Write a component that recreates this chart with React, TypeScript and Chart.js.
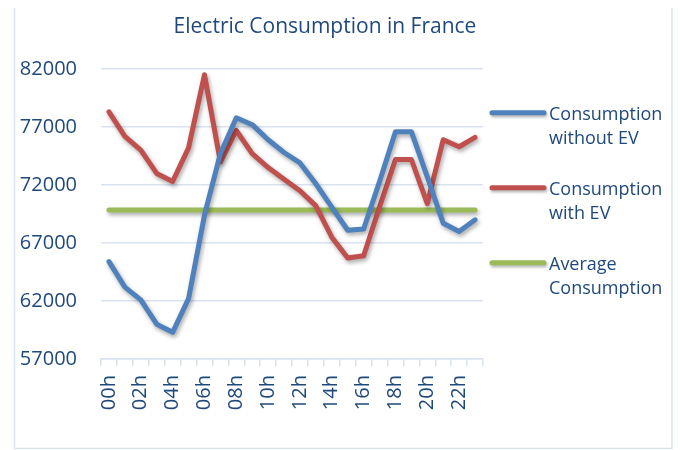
import { useEffect, useRef } from "react";
import { Chart, registerables } from "chart.js";

Chart.register(...registerables);

const chartTitle = "Electric Consumption in France";
const hours = [
  "00h", "01h", "02h", "03h", "04h", "05h", "06h", "07h", "08h", "09h", "10h", "11h",
  "12h", "13h", "14h", "15h", "16h", "17h", "18h", "19h", "20h", "21h", "22h", "23h",
];
const withoutEV = [
  65400, 63200, 62100, 60000, 59300, 62200, 69400, 74700, 77800, 77200, 75900, 74800,
  73900, 72100, 70100, 68100, 68200, 72300, 76600, 76600, 72700, 68700, 68000, 69000,
];
const withEV = [
  78300, 76200, 75000, 73000, 72300, 75200, 81500, 74000, 76700, 74700, 73500, 72500,
  71500, 70200, 67500, 65700, 65900, 70100, 74200, 74200, 70400, 75900, 75300, 76100,
];
const averageConsumption = [
  69850, 69850, 69850, 69850, 69850, 69850, 69850, 69850, 69850, 69850, 69850, 69850,
  69850, 69850, 69850, 69850, 69850, 69850, 69850, 69850, 69850, 69850, 69850, 69850,
];
const yMin = 57000;
const yMax = 82000;
const yStep = 5000;
const seriesNames = [
  ["Consumption", "without EV"],
  ["Consumption", "with EV"],
  ["Average", "Consumption"],
];
const seriesColors = ["#4F81BD", "#C0504D", "#9BBB59"];

const TEXT = "#1F497D";
const GRID = "#D9E3F2";
const FONT = "'Open Sans', sans-serif";

const decorPlugin = {
  id: "decor",
  beforeDraw(chart: any) {
    const ctx = chart.ctx;
    ctx.save();
    ctx.fillStyle = "#ffffff";
    ctx.fillRect(0, 0, chart.width, chart.height);
    ctx.strokeStyle = GRID;
    ctx.lineWidth = 1.5;
    ctx.beginPath();
    ctx.moveTo(14.5, 8);
    ctx.lineTo(14.5, 448.5);
    ctx.lineTo(672, 448.5);
    ctx.lineTo(672, 8);
    ctx.stroke();
    ctx.fillStyle = TEXT;
    ctx.font = `21px ${FONT}`;
    ctx.textAlign = "center";
    ctx.textBaseline = "alphabetic";
    ctx.fillText(chartTitle, 325, 33);
    ctx.restore();
  },
  beforeDatasetDraw(chart: any) {
    const ctx = chart.ctx;
    ctx.save();
    ctx.shadowColor = "rgba(0,0,0,0.35)";
    ctx.shadowBlur = 4;
    ctx.shadowOffsetX = 1.5;
    ctx.shadowOffsetY = 2.5;
  },
  afterDatasetDraw(chart: any) {
    chart.ctx.restore();
  },
  afterDraw(chart: any) {
    const ctx = chart.ctx;
    ctx.save();
    seriesNames.forEach((lines, i) => {
      const y = 112.7 + i * 75;
      ctx.save();
      ctx.shadowColor = "rgba(0,0,0,0.3)";
      ctx.shadowBlur = 3;
      ctx.shadowOffsetX = 1;
      ctx.shadowOffsetY = 2;
      ctx.strokeStyle = seriesColors[i];
      ctx.lineWidth = 5;
      ctx.lineCap = "round";
      ctx.beginPath();
      ctx.moveTo(492, y);
      ctx.lineTo(544, y);
      ctx.stroke();
      ctx.restore();
      ctx.fillStyle = TEXT;
      ctx.font = `18px ${FONT}`;
      ctx.textAlign = "left";
      ctx.textBaseline = "alphabetic";
      lines.forEach((t, j) => ctx.fillText(t, 549, y + 7.5 + j * 23.8));
    });
    ctx.restore();
  },
};

export default function App() {
  const ref = useRef<HTMLCanvasElement | null>(null);
  useEffect(() => {
    document.body.style.margin = "0";
    const canvas = ref.current!;
    const datasets = [withoutEV, withEV, averageConsumption].map((d, i) => ({
      label: seriesNames[i].join(" "),
      data: d,
      borderColor: seriesColors[i],
      backgroundColor: seriesColors[i],
      borderWidth: 5,
      pointRadius: 0,
      pointHoverRadius: 0,
      tension: 0,
      borderJoinStyle: "round" as const,
      borderCapStyle: "round" as const,
      fill: false,
    }));
    const chart = new Chart(canvas, {
      type: "line",
      data: { labels: hours, datasets },
      plugins: [decorPlugin],
      options: {
        responsive: false,
        animation: false,
        layout: { padding: { left: 0, right: 197, top: 69, bottom: 0 } },
        plugins: {
          legend: { display: false },
          title: { display: false },
          tooltip: { enabled: false },
        },
        scales: {
          x: {
            offset: true,
            grid: {
              display: true,
              drawOnChartArea: false,
              drawTicks: true,
              tickLength: 7,
              color: GRID,
              lineWidth: 1.5,
              offset: true,
            },
            border: { display: true, color: GRID, width: 1.5 },
            ticks: {
              autoSkip: false,
              minRotation: 90,
              maxRotation: 90,
              padding: 9,
              color: TEXT,
              font: { family: FONT, size: 20 },
              callback: (_v: any, i: number) => (i % 2 === 0 ? hours[i] : ""),
            },
            afterFit: (s: any) => {
              s.height = 91;
            },
          },
          y: {
            min: yMin,
            max: yMax,
            grid: { color: GRID, lineWidth: 1.5, drawTicks: false },
            border: { display: false },
            ticks: {
              stepSize: yStep,
              padding: 24,
              color: TEXT,
              font: { family: FONT, size: 20 },
              callback: (v: any) => String(v),
            },
            afterFit: (s: any) => {
              s.width = 101;
            },
          },
        },
      },
    });
    return () => chart.destroy();
  }, []);
  return (
    <div style={{ width: 680, height: 450 }}>
      <canvas ref={ref} width={680} height={450} />
    </div>
  );
}
